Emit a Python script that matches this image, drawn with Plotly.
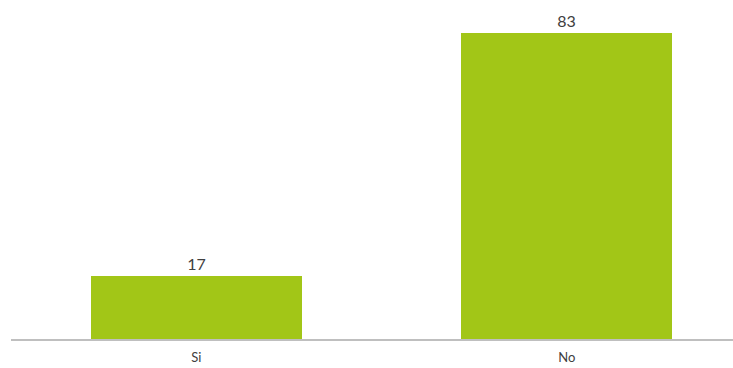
import plotly.graph_objects as go

categories = ["Si", "No"]
values = [17, 83]

fig = go.Figure(go.Bar(
    x=categories, y=values,
    text=[str(v) for v in values], textposition="outside",
    textfont=dict(size=16, color="#404040", family="Lato"),
    marker=dict(color="#A2C617", line=dict(width=0)),
    width=0.57, cliponaxis=False,
))
fig.update_layout(
    width=733, height=368,
    margin=dict(l=11, r=0, t=10, b=28.5),
    paper_bgcolor="white", plot_bgcolor="white",
    showlegend=False,
    xaxis=dict(range=[-0.5, 1.4487], showline=True, linecolor="#BFBFBF", linewidth=1.5,
               ticks="", ticklabelstandoff=6,
               tickfont=dict(size=13, color="#404040", family="Lato"), showgrid=False),
    yaxis=dict(range=[0, 89.2], visible=False, showgrid=False),
    bargap=0,
)
fig.write_html("out.html")
